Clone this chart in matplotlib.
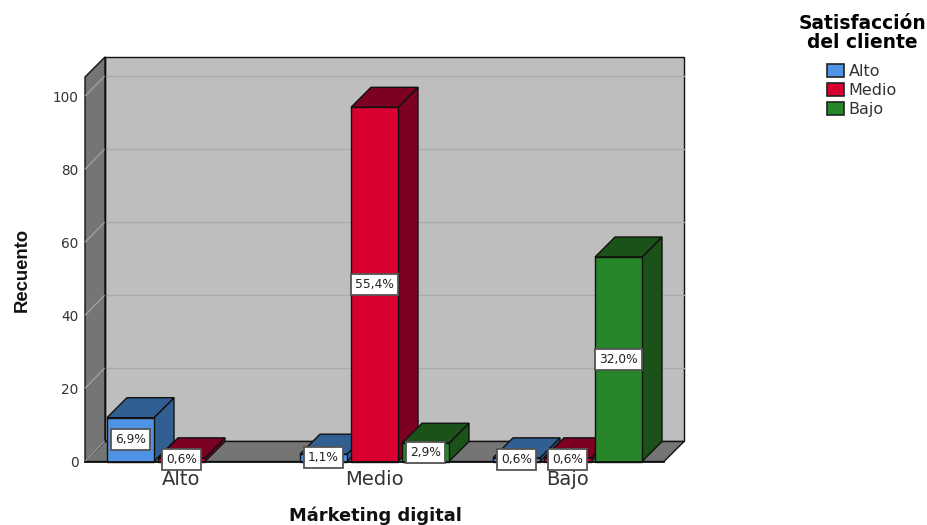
import matplotlib
matplotlib.use("Agg")
import matplotlib.pyplot as plt
from matplotlib.patches import Patch, Polygon

plt.rcParams["font.family"] = ["DejaVu Sans"]

# Recuento por márketing digital y satisfacción del cliente (n = 175)
categories = ["Alto", "Medio", "Bajo"]
series_names = ["Alto", "Medio", "Bajo"]
alto_counts = [12, 2, 1]
medio_counts = [1, 97, 1]
bajo_counts = [0, 5, 56]
alto_labels = ["6,9%", "1,1%", "0,6%"]
medio_labels = ["0,6%", "55,4%", "0,6%"]
bajo_labels = ["", "2,9%", "32,0%"]
y_ticks = [0, 20, 40, 60, 80, 100]

FRONT = ["#4F94E4", "#D80030", "#27852A"]
SHADE = ["#325F92", "#7C0022", "#1A5219"]
WALL = "#757575"
BACK = "#BEBEBE"
EDGE = "#111111"

W, H = 927, 525
fig = plt.figure(figsize=(W / 100, H / 100), dpi=100)
ax = fig.add_axes([85 / W, 1 - 461.5 / H, 579 / W, 384.5 / H])
ax.set_xlim(-0.5, 2.5)
ax.set_ylim(0, 105.3)
ax.patch.set_visible(False)
for spine in ax.spines.values():
    spine.set_visible(False)

# Oblique projection: how far the back plane is shifted, in data units
DX, DY = 20 / 193, 20 / 3.65
X0, X1 = ax.get_xlim()
Y0, Y1 = ax.get_ylim()
LW = 1.0


def poly(points, face, zorder, edge=EDGE, lw=LW):
    ax.add_patch(Polygon(points, closed=True, facecolor=face, edgecolor=edge,
                         linewidth=lw, zorder=zorder, clip_on=False,
                         joinstyle="miter"))


# Walls and floor of the chart box
poly([(X0 + DX, Y0 + DY), (X1 + DX, Y0 + DY), (X1 + DX, Y1 + DY), (X0 + DX, Y1 + DY)], BACK, 1)
poly([(X0, Y0), (X0 + DX, Y0 + DY), (X0 + DX, Y1 + DY), (X0, Y1)], WALL, 1)
poly([(X0, Y0), (X1, Y0), (X1 + DX, Y0 + DY), (X0 + DX, Y0 + DY)], WALL, 1)

for t in y_ticks[1:]:
    ax.plot([X0 + DX, X1 + DX], [t + DY, t + DY], color="#ABABAB", lw=1.0,
            zorder=2, clip_on=False)
    ax.plot([X0 + 0.003, X0 + DX - 0.003], [t + 0.2, t + DY], color="#9E9E9E", lw=1.0,
            zorder=2, clip_on=False)
ax.plot([X0 + 0.003, X0 + DX - 0.003], [0.2, DY], color="#9E9E9E", lw=1.0, zorder=2,
        clip_on=False)
ax.plot([X0 + DX, X0 + DX], [DY, Y1 + DY], color=EDGE, lw=LW, zorder=3, clip_on=False)

BAR_W = 47 / 193
STEP = 51 / 193
z = 4
columns = [alto_counts, medio_counts, bajo_counts]
texts = [alto_labels, medio_labels, bajo_labels]
for cat in range(len(categories)):
    for s, counts in enumerate(columns):
        v = counts[cat]
        if v == 0:
            continue
        x0 = cat + (s - 1) * STEP - BAR_W / 2
        x1 = x0 + BAR_W
        poly([(x1, 0), (x1 + DX, DY), (x1 + DX, v + DY), (x1, v)], SHADE[s], z)
        poly([(x0, v), (x1, v), (x1 + DX, v + DY), (x0 + DX, v + DY)], SHADE[s], z)
        poly([(x0, 0), (x1, 0), (x1, v), (x0, v)], FRONT[s], z)
        z += 1

# Percentage labels sit on top of every bar
for cat in range(len(categories)):
    for s, counts in enumerate(columns):
        if counts[cat] == 0:
            continue
        xc = cat + (s - 1) * STEP
        ax.text(xc, counts[cat] / 2, texts[s][cat], ha="center", va="center",
                fontsize=8.8, color="#222222", zorder=50, clip_on=False,
                bbox=dict(boxstyle="square,pad=0.32", facecolor="white",
                          edgecolor="#555555", linewidth=1.3))

# Front edge of the floor
ax.plot([X0, X1], [0, 0], color=EDGE, lw=1.3, zorder=30, clip_on=False)

ax.set_yticks(y_ticks)
ax.set_xticks(range(len(categories)), categories)
ax.tick_params(axis="y", length=0, pad=4.5, labelsize=9.8, labelcolor="#333333")
ax.tick_params(axis="x", length=0, pad=6, labelsize=14, labelcolor="#333333")

fig.text(375 / W, 1 - 516 / H, "Márketing digital", ha="center", va="center",
         fontsize=12.9, fontweight="bold", color="#111111")
fig.text(22 / W, 1 - 269.5 / H, "Recuento", ha="center", va="center", rotation=90,
         fontsize=13.3, fontweight="bold", color="#111111", family="Liberation Sans")

handles = [Patch(facecolor=c, edgecolor="#222222", linewidth=1.2, label=n)
           for c, n in zip(FRONT, series_names)]
legend = fig.legend(handles=handles, title="Satisfacción\ndel cliente", frameon=False,
                    loc="upper center", bbox_to_anchor=(862 / W, 1 - 14 / H),
                    fontsize=11.5, alignment="center", borderpad=0, borderaxespad=0,
                    handlelength=1.05, handleheight=0.85, handletextpad=0.3,
                    labelspacing=0.25, labelcolor="#333333",
                    title_fontproperties=dict(size=13.4, weight="bold"))
legend.get_title().set_multialignment("center")
legend.get_title().set_linespacing(1.0)
# Extra air between the two-line title and the entries
legend._legend_box.sep += 6.0

fig.savefig("out.png", dpi=100)
